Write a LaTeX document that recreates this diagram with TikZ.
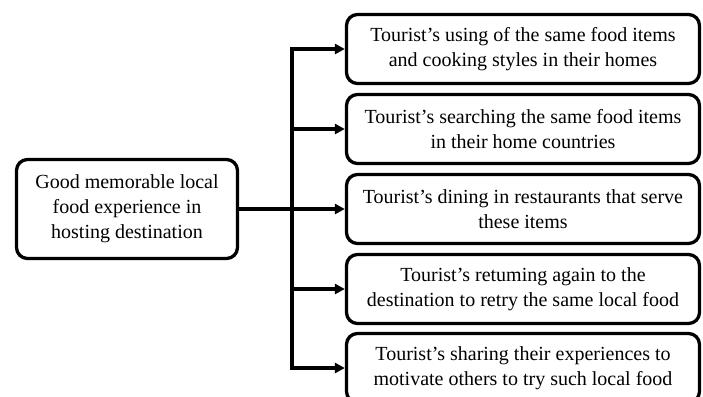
\documentclass[tikz,border=0pt]{standalone}
\usepackage{fontspec}
\setmainfont{Liberation Serif}
\usetikzlibrary{arrows.meta}
\begin{document}
\begin{tikzpicture}[x=1pt,y=-1pt,
  box/.style={draw, line width=3.3pt, rounded corners=11pt, minimum height=69pt,
    minimum width=353pt, align=center, inner sep=0pt,
    font=\fontsize{20}{25}\selectfont},
  link/.style={line width=3.3pt},
  arr/.style={link, -{Triangle[length=10pt,width=10pt]}}]
\useasboundingbox (0,0) rectangle (703,396);
\node[box, minimum width=221pt, minimum height=99pt] (src) at (127,209)
  {Good memorable local\\food experience in\\hosting destination};
\node[box] (t1) at (523,49) {Tourist’s using of the same food items\\and cooking styles in their homes};
\node[box] (t2) at (523,129) {Tourist’s searching the same food items\\in their home countries};
\node[box] (t3) at (523,209) {Tourist’s dining in restaurants that serve\\these items};
\node[box] (t4) at (523,289) {Tourist’s retuming again to the\\destination to retry the same local food};
\node[box] (t5) at (523,368) {Tourist’s sharing their experiences to\\motivate others to try such local food};
\coordinate (j) at (292,209);
\draw[link, line cap=rect] (j |- t1.west) -- (j |- t5.west);
\draw[arr] (src.east) -- (t3.west);
\foreach \t in {t1,t2,t4,t5}{\draw[arr] (j |- \t.west) -- (\t.west);}
\end{tikzpicture}
\end{document}
